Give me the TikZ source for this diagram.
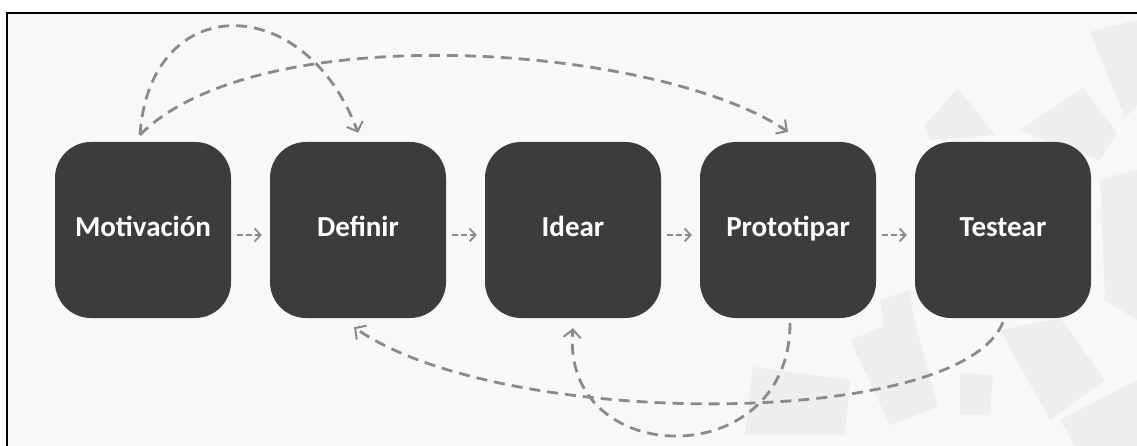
\documentclass[tikz,border=0pt]{standalone}
\usepackage{fontspec}
\setmainfont{Carlito}
\usetikzlibrary{arrows.meta}
\definecolor{boxfill}{HTML}{3C3C3C}
\definecolor{arrowgray}{HTML}{8A8A8A}
\definecolor{bggray}{HTML}{F8F8F8}
\definecolor{deco}{HTML}{EEEEEE}
\tikzset{
  stepbox/.style={rectangle, rounded corners=36pt, fill=boxfill, minimum width=176pt, minimum height=176pt, inner sep=0pt,
    text=white, font=\bfseries\fontsize{29}{31}\selectfont, text height=19pt, text depth=6pt},
  flowarrow/.style={draw=arrowgray, line width=2.8pt, dash pattern=on 11pt off 7pt,
    -{Straight Barb[length=8pt,width=17pt,line width=2pt]}},
  shortarrow/.style={draw=arrowgray, line width=2.4pt, dash pattern=on 6pt off 3pt,
    -{Straight Barb[length=6pt,width=13pt,line width=1.8pt]}},
  decoshape/.style={fill=deco, draw=none}
}
\begin{document}
\begin{tikzpicture}[x=1pt,y=-1pt]
\useasboundingbox (0,0) rectangle (1137,446);
\fill[white] (0,0) rectangle (1137,446);
\fill[bggray] (7,13) rectangle (1137,446);
% faint decorative shapes
\fill[decoshape] (1090,32) -- (1137,20) -- (1137,105) -- (1125,118) -- cycle;
\fill[decoshape] (925,125) -- (958,88) -- (995,135) -- (930,140) -- cycle;
\fill[decoshape] (1020,130) -- (1083,88) -- (1117,133) -- (1100,160) -- cycle;
\fill[decoshape] (1100,180) -- (1137,170) -- (1137,320) -- (1105,300) -- cycle;
\fill[decoshape] (753,367) -- (850,380) -- (845,435) -- (745,435) -- cycle;
\fill[decoshape] (850,340) -- (913,315) -- (938,407) -- (890,425) -- cycle;
\fill[decoshape] (960,373) -- (993,375) -- (990,415) -- (960,415) -- cycle;
\fill[decoshape] (1000,330) -- (1060,318) -- (1105,380) -- (1050,420) -- cycle;
\fill[decoshape] (1060,420) -- (1137,380) -- (1137,446) -- (1075,446) -- cycle;
\fill[decoshape] (880,300) -- (910,290) -- (915,330) -- (885,335) -- cycle;
% frame
\draw[black, line width=2.5pt] (7,446) -- (7,13) -- (1137,13);
% boxes
\node[stepbox] (mot) at (143,230) {Motivación};
\node[stepbox] (def) at (358,230) {Definir};
\node[stepbox] (ide) at (573,230) {Idear};
\node[stepbox] (pro) at (788,230) {Prototipar};
\node[stepbox] (tes) at (1003,230) {Testear};
% short arrows
\draw[shortarrow] ([xshift=6pt,yshift=-5pt]mot.east) -- ([xshift=-8pt,yshift=-5pt]def.west);
\draw[shortarrow] ([xshift=6pt,yshift=-5pt]def.east) -- ([xshift=-8pt,yshift=-5pt]ide.west);
\draw[shortarrow] ([xshift=6pt,yshift=-5pt]ide.east) -- ([xshift=-8pt,yshift=-5pt]pro.west);
\draw[shortarrow] ([xshift=6pt,yshift=-5pt]pro.east) -- ([xshift=-8pt,yshift=-5pt]tes.west);
% long curved arrows
\coordinate (m1) at ([xshift=-3pt,yshift=7pt]mot.north);
\draw[flowarrow] (m1) .. controls (150,-10) and (305,-10) .. ([yshift=9pt]def.north);
\draw[flowarrow] (m1) .. controls (260,15) and (660,45) .. ([yshift=10pt]pro.north);
\draw[flowarrow] ([yshift=-4pt]tes.south) .. controls (960,430) and (500,430) .. ([xshift=-4pt,yshift=-9pt]def.south);
\draw[flowarrow] ([xshift=2pt,yshift=-5pt]pro.south) .. controls (790,475) and (560,470) .. ([yshift=-10pt]ide.south);
\end{tikzpicture}
\end{document}
